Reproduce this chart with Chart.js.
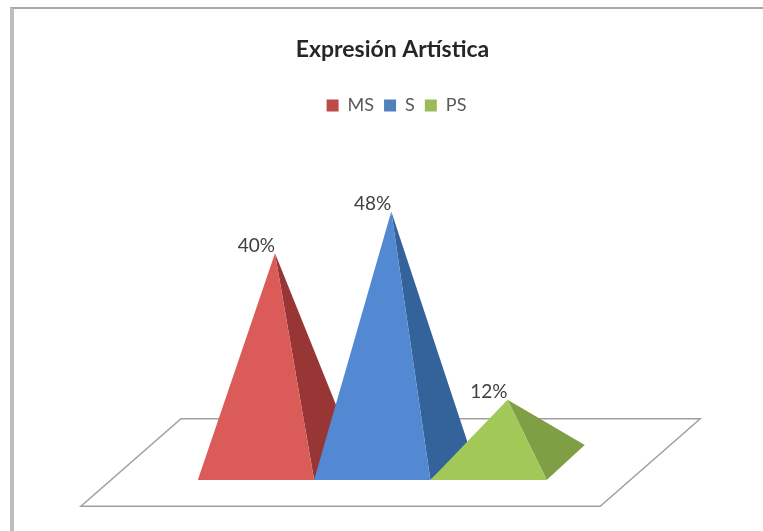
<!DOCTYPE html>
<html>
<head>
<meta charset="utf-8">
<style>
    html, body { margin: 0; background: #fff; }
    #wrap { position: relative; width: 763px; height: 531px; overflow: hidden; }
    #frame { position: absolute; left: 10px; top: 7px; right: -5px; bottom: -5px;
             border-left: 4px solid #bdbdbd; border-top: 2px solid #a8a8a8; pointer-events: none; }
    canvas { display: block; }
</style>
<script src="https://cdn.jsdelivr.net/npm/chart.js@4"></script>
</head>
<body>
<div id="wrap">
    <canvas id="graph" width="763" height="531"></canvas>
    <div id="frame"></div>
</div>
<script>
const categories = ['MS', 'S', 'PS'];
const percentages = [40, 48, 12];
const legendColors = ['#be4b48', '#4f81bd', '#9bbb59'];
const frontColors = ['#da5b58', '#5389d3', '#a2c958'];
const sideColors = ['#983535', '#34629b', '#7f9f45'];

// Pyramids are drawn by hand on top of the bar geometry
const pyramidPlugin = {
    id: 'pyramids',
    afterLayout(chart) {
        // Legend sits a little right of the title
        chart.legend.left += 4;
        chart.legend.right += 4;
    },
    beforeDatasetDraw(chart, args) {
        const { ctx, scales } = chart;
        const bars = args.meta.data;
        const depthX = bars[0].width * 0.327;
        const depthY = bars[0].width * 0.30;

        // Floor of the plot
        const skew = 0.86;
        ctx.save();
        ctx.strokeStyle = '#a0a0a0';
        ctx.lineWidth = 1.5;
        ctx.beginPath();
        ctx.moveTo(scales.x.getPixelForValue(-0.505), scales.y.getPixelForValue(-8.37));
        ctx.lineTo(scales.x.getPixelForValue(3.96), scales.y.getPixelForValue(-8.37));
        ctx.lineTo(scales.x.getPixelForValue(3.96 + skew), scales.y.getPixelForValue(8.37));
        ctx.lineTo(scales.x.getPixelForValue(-0.505 + skew), scales.y.getPixelForValue(8.37));
        ctx.closePath();
        ctx.stroke();

        bars.forEach((bar, i) => {
            const left = bar.x - bar.width / 2;
            const right = bar.x + bar.width / 2;
            const front = bar.base + depthY / 2;
            const apexX = bar.x + depthX / 2;

            ctx.fillStyle = sideColors[i];
            ctx.beginPath();
            ctx.moveTo(right, front);
            ctx.lineTo(right + depthX, front - depthY);
            ctx.lineTo(apexX, bar.y);
            ctx.closePath();
            ctx.fill();

            ctx.fillStyle = frontColors[i];
            ctx.beginPath();
            ctx.moveTo(left, front);
            ctx.lineTo(right, front);
            ctx.lineTo(apexX, bar.y);
            ctx.closePath();
            ctx.fill();

            // Value label sits up against the apex
            ctx.fillStyle = '#404040';
            ctx.font = '19px Lato';
            ctx.textAlign = 'right';
            ctx.textBaseline = 'bottom';
            ctx.fillText(percentages[i] + '%', apexX, bar.y + 2);
        });
        ctx.restore();
        return false;
    }
};

new Chart(document.getElementById('graph'), {
    type: 'bar',
    data: {
        datasets: [{
            data: categories.map((name, i) => ({ x: i + 1, y: percentages[i] })),
            backgroundColor: frontColors,
            barPercentage: 1,
            categoryPercentage: 1
        }]
    },
    options: {
        responsive: false,
        animation: false,
        layout: { padding: { top: 36, left: 22, right: 0, bottom: 68.5 } },
        plugins: {
            title: {
                display: true,
                text: 'Expresión Artística',
                color: '#262626',
                font: { family: 'Lato', size: 23, weight: 'bold' },
                padding: { top: 0, bottom: 23 }
            },
            legend: {
                display: true,
                position: 'top',
                labels: {
                    boxWidth: 12,
                    boxHeight: 12,
                    padding: 10,
                    font: { family: 'Lato', size: 18 },
                    generateLabels: () => categories.map((name, i) => ({
                        text: name,
                        fontColor: '#595959',
                        fillStyle: legendColors[i],
                        strokeStyle: legendColors[i],
                        lineWidth: 0,
                        index: i
                    }))
                }
            },
            tooltip: { enabled: false }
        },
        scales: {
            x: { type: 'linear', display: false, offset: false, min: -1.012, max: 5.36 },
            y: { display: false, min: 0, max: 64.6 }
        }
    },
    plugins: [pyramidPlugin]
});
</script>
</body>
</html>
